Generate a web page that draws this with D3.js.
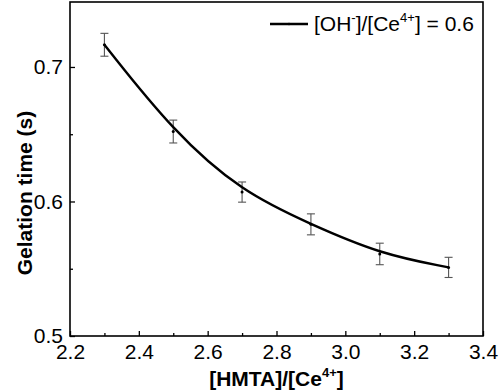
<!DOCTYPE html>
<html>
<head>
<meta charset="utf-8">
<script src="https://cdn.jsdelivr.net/npm/d3@7"></script>
<style>
  body { margin: 0; background: #fff; }
  text { font-family: "Liberation Sans", Arial, sans-serif; }
</style>
</head>
<body>
<div id="chart"></div>
<script>
const ratio = [2.3, 2.5, 2.7, 2.9, 3.1, 3.3];
const gelTime = [0.7165, 0.652, 0.607, 0.583, 0.561, 0.551];
const errs = [0.0085, 0.0085, 0.0075, 0.0078, 0.008, 0.0075];
const xTicks = [2.2, 2.4, 2.6, 2.8, 3.0, 3.2, 3.4];
const yTicks = [0.5, 0.6, 0.7];

const width = 500, height = 392;
const margin = { top: 2, right: 17, bottom: 56, left: 70 };

const svg = d3.select("#chart").append("svg")
  .attr("width", width)
  .attr("height", height);

const x = d3.scaleLinear()
  .domain([2.2, 3.4])
  .range([margin.left, width - margin.right]);

const y = d3.scaleLinear()
  .domain([0.5, 0.7483])
  .range([height - margin.bottom, margin.top]);

const data = ratio.map((r, i) => ({ x: r, y: gelTime[i], e: errs[i] }));

// axes, ticks inward
svg.append("g")
  .attr("transform", `translate(0,${height - margin.bottom})`)
  .call(d3.axisBottom(x).tickValues(xTicks).tickSize(-5).tickPadding(8).tickFormat(d3.format(".1f")))
  .call(g => g.select(".domain").remove())
  .call(g => g.selectAll("text").attr("font-size", 21).attr("dy", "0.72em"));

svg.append("g")
  .attr("transform", `translate(0,${height - margin.bottom})`)
  .call(d3.axisBottom(x).tickValues(d3.range(2.3, 3.4, 0.2)).tickSize(-3).tickFormat(""))
  .call(g => g.select(".domain").remove());

svg.append("g")
  .attr("transform", `translate(${margin.left},0)`)
  .call(d3.axisLeft(y).tickValues(yTicks).tickSize(-5).tickPadding(7).tickFormat(d3.format(".1f")))
  .call(g => g.select(".domain").remove())
  .call(g => g.selectAll("text").attr("font-size", 21));

svg.append("g")
  .attr("transform", `translate(${margin.left},0)`)
  .call(d3.axisLeft(y).tickValues([0.55, 0.65]).tickSize(-3).tickFormat(""))
  .call(g => g.select(".domain").remove());

svg.selectAll(".tick line").attr("stroke", "#000").attr("stroke-width", 1.3);

// frame
svg.append("rect")
  .attr("x", margin.left)
  .attr("y", margin.top)
  .attr("width", width - margin.right - margin.left)
  .attr("height", height - margin.bottom - margin.top)
  .attr("fill", "none")
  .attr("stroke", "#000")
  .attr("stroke-width", 1.6);

// error bars
const eb = svg.append("g").attr("stroke", "#555").attr("stroke-width", 1.1);
eb.selectAll(".v").data(data).join("line")
  .attr("x1", d => x(d.x)).attr("x2", d => x(d.x))
  .attr("y1", d => y(d.y - d.e)).attr("y2", d => y(d.y + d.e));
eb.selectAll(".top").data(data).join("line")
  .attr("x1", d => x(d.x) - 4).attr("x2", d => x(d.x) + 4)
  .attr("y1", d => y(d.y + d.e)).attr("y2", d => y(d.y + d.e));
eb.selectAll(".bot").data(data).join("line")
  .attr("x1", d => x(d.x) - 4).attr("x2", d => x(d.x) + 4)
  .attr("y1", d => y(d.y - d.e)).attr("y2", d => y(d.y - d.e));

// curve
svg.append("path")
  .datum(data)
  .attr("fill", "none")
  .attr("stroke", "#000")
  .attr("stroke-width", 2.4)
  .attr("d", d3.line().x(d => x(d.x)).y(d => y(d.y)).curve(d3.curveBasis));

svg.append("g").selectAll("circle").data(data).join("circle")
  .attr("cx", d => x(d.x)).attr("cy", d => y(d.y)).attr("r", 1.5).attr("fill", "#000");

// legend
svg.append("line")
  .attr("x1", 270).attr("x2", 308).attr("y1", 24).attr("y2", 24)
  .attr("stroke", "#000").attr("stroke-width", 2.4);
svg.append("circle").attr("cx", 289).attr("cy", 24).attr("r", 1.2).attr("fill", "#000");

const leg = svg.append("text").attr("x", 314).attr("y", 31).attr("font-size", 21);
leg.append("tspan").text("[OH");
leg.append("tspan").attr("font-size", 13).attr("dy", -9).text("-");
leg.append("tspan").attr("dy", 9).text("]/[Ce");
leg.append("tspan").attr("font-size", 13).attr("dy", -9).text("4+");
leg.append("tspan").attr("dy", 9).text("] = 0.6");

// axis titles
const xt = svg.append("text")
  .attr("x", (margin.left + width - margin.right) / 2)
  .attr("y", 386)
  .attr("text-anchor", "middle")
  .attr("font-size", 21)
  .attr("font-weight", "bold");
xt.append("tspan").text("[HMTA]/[Ce");
xt.append("tspan").attr("font-size", 13).attr("dy", -9).text("4+");
xt.append("tspan").attr("dy", 9).text("]");

svg.append("text")
  .attr("transform", `translate(32,${(margin.top + height - margin.bottom) / 2 + 24}) rotate(-90)`)
  .attr("text-anchor", "middle")
  .attr("font-size", 21)
  .attr("font-weight", "bold")
  .text("Gelation time (s)");
</script>
</body>
</html>
